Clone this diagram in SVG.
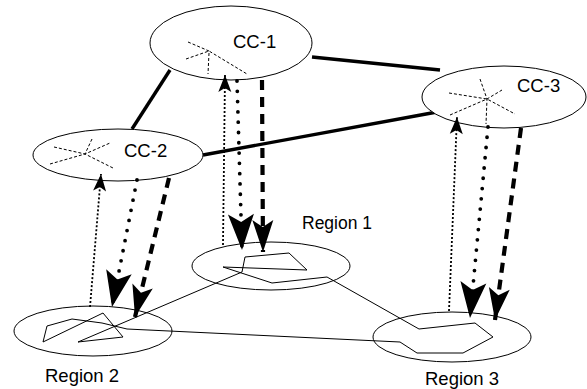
<svg xmlns="http://www.w3.org/2000/svg" width="587" height="389" viewBox="0 0 587 389">
<style>
.ell{fill:#fff;stroke:#000;stroke-width:1}
.star{stroke:#000;stroke-width:1;stroke-dasharray:3 2;fill:none}
.lbl{font-family:"Liberation Sans",Arial,sans-serif;fill:#000}
.poly{fill:none;stroke:#000;stroke-width:1}
.thick{stroke:#000;stroke-width:3.4;fill:none}
.up{stroke:#000;stroke-width:1.8;stroke-dasharray:2 2;fill:none}
.dot{stroke:#000;stroke-width:3.8;stroke-linecap:round;stroke-dasharray:0 10.3;fill:none}
.dash{stroke:#000;stroke-width:4.2;stroke-dasharray:10 7;fill:none}
</style>
<defs>
<marker id="mSmall" viewBox="-18 -8 20 16" markerWidth="20" markerHeight="16" refX="0" refY="0" orient="auto" markerUnits="userSpaceOnUse">
<path d="M0,0 L-17,-6.5 L-13,0 L-17,6.5 Z" fill="#000"/>
</marker>
<marker id="mDot" viewBox="-37 -15 39 30" markerWidth="39" markerHeight="30" refX="0" refY="0" orient="auto" markerUnits="userSpaceOnUse">
<path d="M0,0 L-36,-13 L-28,0 L-36,13 Z" fill="#000"/>
</marker>
<marker id="mDash" viewBox="-34 -12 36 24" markerWidth="36" markerHeight="24" refX="0" refY="0" orient="auto" markerUnits="userSpaceOnUse">
<path d="M0,0 L-32,-10.5 L-25,0 L-32,10.5 Z" fill="#000"/>
</marker>
</defs>

<g id="connectors">
<line class="thick" x1="312" y1="57" x2="440" y2="70"/>
<line class="thick" x1="170" y1="70" x2="132" y2="129"/>
<line class="thick" x1="203" y1="155" x2="437" y2="112"/>
</g>

<g id="region1">
<ellipse class="ell" cx="271" cy="266" rx="79" ry="24"/>
<text class="lbl" x="302" y="229" font-size="17.5">Region 1</text>
</g>
<g id="region2">
<ellipse class="ell" cx="93" cy="331" rx="79" ry="25"/>
<text class="lbl" x="45" y="382" font-size="18.5">Region 2</text>
</g>
<g id="region3">
<ellipse class="ell" cx="452" cy="337" rx="79" ry="25"/>
<text class="lbl" x="425" y="385" font-size="18.5">Region 3</text>
</g>

<g id="paths">
<polyline class="poly" points="78,342 242,272 245,257 289,253 307,270 223,267 272,283 327,277 419,329 475,323 493,337 463,353 417,353 400,342 127,329 102,323 72,319 47,326 43,342 103,313 123,337 78,342"/>
</g>

<g id="cc1">
<ellipse class="ell" cx="231" cy="43" rx="81" ry="37"/>
<path class="star" d="M188,42 L209,51 M186,59 L209,51 L247,74 M209,53 L208,74"/>
<text class="lbl" x="233" y="48" font-size="18.5">CC-1</text>
</g>
<g id="cc2">
<ellipse class="ell" cx="118" cy="155" rx="85" ry="26"/>
<path class="star" d="M54,147 L85,154 L113,168 M50,164 L85,154 L110,143 M92,139 L85,154"/>
<text class="lbl" x="124" y="157" font-size="18.5">CC-2</text>
</g>
<g id="cc3">
<ellipse class="ell" cx="504" cy="97" rx="82" ry="31"/>
<path class="star" d="M449,93 L487,99 L515,114 M450,115 L487,99 L502,90 M480,79 L487,99 L486,124"/>
<text class="lbl" x="517" y="92" font-size="18.5">CC-3</text>
</g>

<g id="arrows">
<path class="up" d="M223,245 L225,75" marker-end="url(#mSmall)"/>
<path class="dot" d="M237,81 L242,250" marker-end="url(#mDot)"/>
<path class="dash" d="M262,80 L263,252" marker-end="url(#mDash)"/>
<path class="up" d="M90,307 L101,174" marker-end="url(#mSmall)"/>
<path class="dot" d="M137,180 L112,307" marker-end="url(#mDot)"/>
<path class="dash" d="M169,178 L135,317" marker-end="url(#mDash)"/>
<path class="up" d="M449,311 L457,117" marker-end="url(#mSmall)"/>
<path class="dot" d="M488,127 L470,318" marker-end="url(#mDot)"/>
<path class="dash" d="M521,128 L495,320" marker-end="url(#mDash)"/>
</g>
</svg>
